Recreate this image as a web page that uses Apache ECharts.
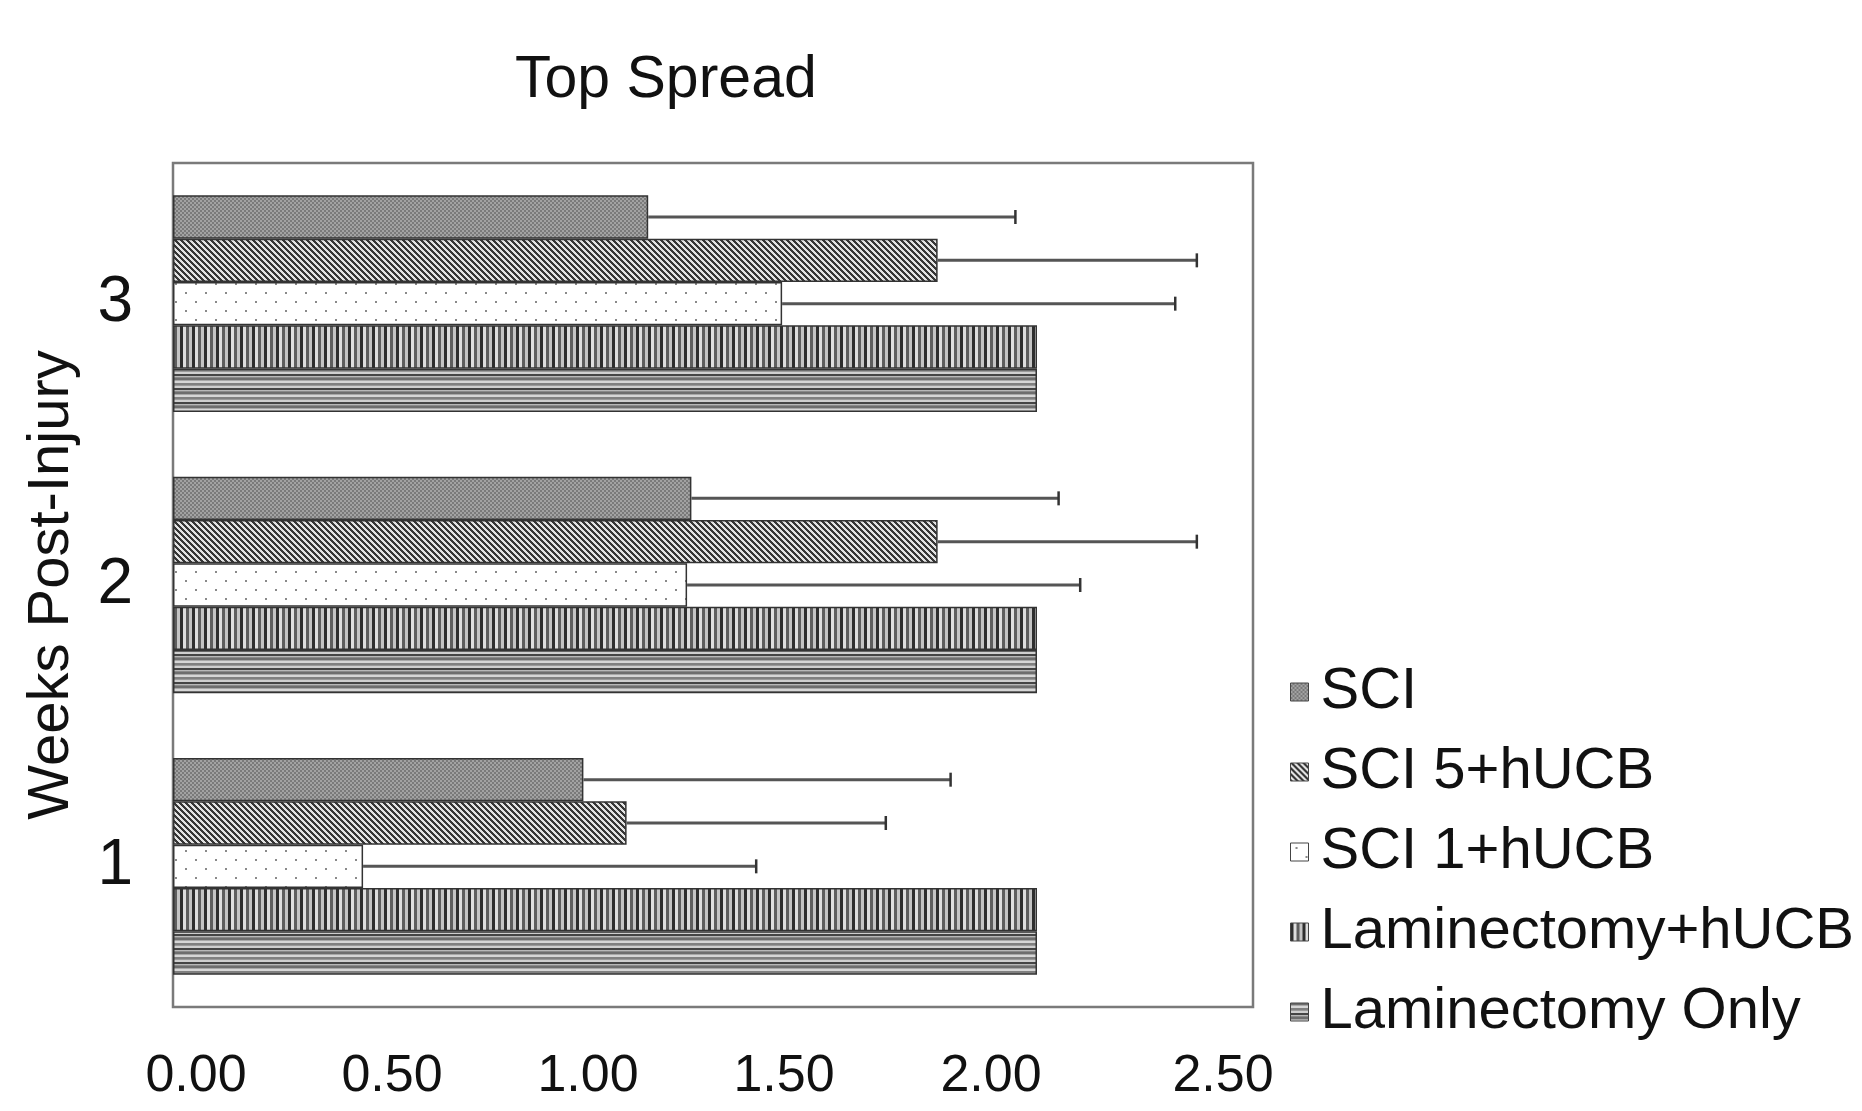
<!DOCTYPE html>
<html>
<head>
<meta charset="utf-8">
<script src="https://cdn.jsdelivr.net/npm/echarts@6/dist/echarts.min.js"></script>
<style>html,body{margin:0;padding:0;background:#fff}#c{width:1862px;height:1111px}</style>
</head>
<body>
<div id="c"></div>
<script>
// ---- data ----
const weeks = ['1', '2', '3'];
const seriesNames = ['SCI', 'SCI 5+hUCB', 'SCI 1+hUCB', 'Laminectomy+hUCB', 'Laminectomy Only'];
const sciMean = [0.95, 1.20, 1.10];
const sciErr = [0.85, 0.85, 0.85];
const sci5Mean = [1.05, 1.77, 1.77];
const sci5Err = [0.60, 0.60, 0.60];
const sci1Mean = [0.44, 1.19, 1.41];
const sci1Err = [0.91, 0.91, 0.91];
const lamHucbMean = [2.00, 2.00, 2.00];
const lamOnlyMean = [2.00, 2.00, 2.00];
const xTicks = [0, 0.5, 1.0, 1.5, 2.0, 2.5];

const means = [sciMean, sci5Mean, sci1Mean, lamHucbMean, lamOnlyMean];
const errs = [sciErr, sci5Err, sci1Err, null, null];

// ---- patterns ----
function pat(w, h, draw) {
  const c = document.createElement('canvas');
  c.width = w; c.height = h;
  const ctx = c.getContext('2d');
  draw(ctx);
  return { image: c, repeat: 'repeat' };
}
const patterns = [
  pat(4, 4, ctx => {
    ctx.fillStyle = '#7a7a7a'; ctx.fillRect(0, 0, 4, 4);
    ctx.fillStyle = '#a2a2a2'; ctx.fillRect(0, 0, 2, 2); ctx.fillRect(2, 2, 2, 2);
  }),
  pat(6, 6, ctx => {
    ctx.fillStyle = '#e2e2e2'; ctx.fillRect(0, 0, 6, 6);
    ctx.fillStyle = '#363636';
    for (let y = 0; y < 6; y++) for (let x = 0; x < 6; x++) {
      if (((x - y) % 6 + 6) % 6 < 3) ctx.fillRect(x, y, 1, 1);
    }
  }),
  pat(20, 18, ctx => {
    ctx.fillStyle = '#ffffff'; ctx.fillRect(0, 0, 20, 18);
    ctx.fillStyle = '#8a8a8a'; ctx.fillRect(5, 4, 2, 2); ctx.fillRect(15, 13, 2, 2);
  }),
  pat(12, 1, ctx => {
    const cols = ['#2e2e2e', '#2e2e2e', '#2e2e2e', '#dedede', '#dedede', '#dedede',
                  '#5e5e5e', '#5e5e5e', '#5e5e5e', '#c4c4c4', '#c4c4c4', '#c4c4c4'];
    cols.forEach((c, i) => { ctx.fillStyle = c; ctx.fillRect(i, 0, 1, 1); });
  }),
  pat(1, 14, ctx => {
    const cols = ['#6e6e6e', '#6e6e6e', '#a8a8a8', '#d6d6d6', '#d6d6d6', '#808080', '#808080',
                  '#999999', '#cfcfcf', '#cfcfcf', '#454545', '#454545', '#b8b8b8', '#8a8a8a'];
    cols.forEach((c, i) => { ctx.fillStyle = c; ctx.fillRect(0, i, 1, 1); });
  })
];

const GAP = 0.23;
const labelShift = { '0.00': 23, '0.50': 3, '1.00': -17, '1.50': -37, '2.00': -46, '2.50': -30 };

const barSeries = seriesNames.map((n, i) => ({
  name: n,
  type: 'bar',
  data: means[i],
  barGap: '0%',
  barCategoryGap: (GAP * 100) + '%',
  itemStyle: { color: patterns[i], borderColor: '#333', borderWidth: 1.5 },
  emphasis: { disabled: true },
  z: 2
}));

const errSeries = [];
seriesNames.forEach((n, i) => {
  if (!errs[i]) return;
  errSeries.push({
    name: 'err ' + n,
    type: 'custom',
    data: weeks.map((w, j) => [means[i][j], j, errs[i][j]]),
    encode: { x: 0, y: 1 },
    z: 3,
    renderItem: (params, api) => {
      const v = api.value(0), c = api.value(1), e = api.value(2);
      const p0 = api.coord([v, c]);
      const p1 = api.coord([v + e, c]);
      const band = api.size([0, 1])[1];
      const bw = band * (1 - GAP) / seriesNames.length;
      const y = p0[1] + (i - (seriesNames.length - 1) / 2) * bw;
      return {
        type: 'group',
        children: [
          { type: 'line', shape: { x1: p0[0], y1: y, x2: p1[0], y2: y }, style: { stroke: '#555', lineWidth: 3 } },
          { type: 'line', shape: { x1: p1[0], y1: y - 7, x2: p1[0], y2: y + 7 }, style: { stroke: '#333', lineWidth: 2.5 } }
        ]
      };
    }
  });
});

const rich = {};
Object.keys(labelShift).forEach((k, idx) => {
  const s = labelShift[k];
  rich['l' + idx] = { fontSize: 52, color: '#111', fontFamily: 'Liberation Sans, Arial, sans-serif',
    padding: s >= 0 ? [0, 0, 0, 2 * s] : [0, -2 * s, 0, 0] };
});

const chart = echarts.init(document.getElementById('c'), null, { renderer: 'canvas' });
chart.setOption({
  backgroundColor: '#ffffff',
  animation: false,
  textStyle: { fontFamily: 'Liberation Sans, Arial, sans-serif', color: '#111' },
  title: {
    text: 'Top Spread', left: 510, top: 46,
    textStyle: { fontSize: 59, fontWeight: 'normal', color: '#111', fontFamily: 'Liberation Sans, Arial, sans-serif' }
  },
  legend: {
    data: seriesNames,
    orient: 'vertical',
    left: 1290, top: 663,
    itemWidth: 18, itemHeight: 18, itemGap: 22,
    icon: 'rect',
    padding: 0,
    itemStyle: { borderColor: '#444', borderWidth: 1 },
    textStyle: { fontSize: 58, lineHeight: 58, color: '#111', padding: [0, 0, 0, 7], fontFamily: 'Liberation Sans, Arial, sans-serif' }
  },
  grid: {
    left: 173, right: 609, top: 163, bottom: 104,
    show: true, borderColor: '#7a7a7a', borderWidth: 2.5, backgroundColor: '#fff'
  },
  xAxis: {
    type: 'value', min: xTicks[0], max: xTicks[xTicks.length - 1], interval: xTicks[1] - xTicks[0],
    axisLine: { show: false }, axisTick: { show: false }, splitLine: { show: false },
    axisLabel: {
      margin: 44, fontSize: 52, color: '#111', rich: rich,
      formatter: v => {
        const t = v.toFixed(2);
        const idx = Object.keys(labelShift).indexOf(t);
        return idx >= 0 ? '{l' + idx + '|' + t + '}' : t;
      }
    }
  },
  yAxis: {
    type: 'category', data: weeks,
    name: 'Weeks Post-Injury', nameLocation: 'middle', nameGap: 92,
    nameTextStyle: { fontSize: 58, color: '#111', fontFamily: 'Liberation Sans, Arial, sans-serif' },
    axisLine: { show: false }, axisTick: { show: false }, splitLine: { show: false },
    axisLabel: { margin: 40, fontSize: 64, color: '#111' }
  },
  series: barSeries.concat(errSeries)
});
</script>
</body>
</html>
